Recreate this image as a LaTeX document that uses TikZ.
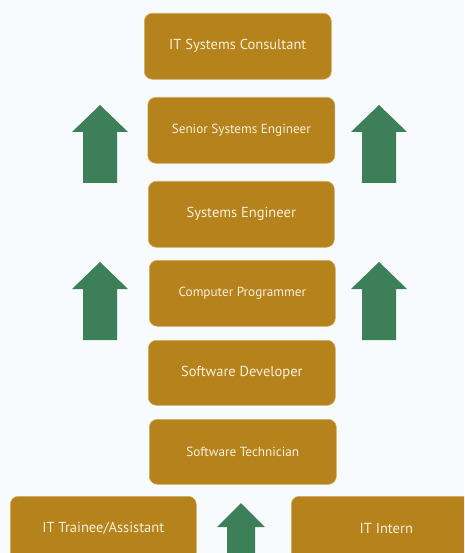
\documentclass[tikz,border=0pt]{standalone}
\usepackage{fontspec}
\setmainfont{PT Sans}
\definecolor{bg}{HTML}{F7FBFD}
\definecolor{boxc}{HTML}{B5821C}
\definecolor{boxedge}{HTML}{D2B06A}
\definecolor{arr}{HTML}{3D7F58}
\definecolor{txt}{HTML}{F8F0DA}
\tikzset{
  careerbox/.style={rectangle, rounded corners=8pt, fill=boxc, draw=boxedge, line width=0.6pt,
    text=txt, inner sep=0pt, anchor=north west},
  bigtxt/.style={font=\fontsize{14.5}{17}\selectfont},
  smalltxt/.style={font=\fontsize{13.2}{15}\selectfont},
  uparrow/.pic={
    \fill[arr] (0,0) -- (28,27) -- (17,27) -- (17,78) -- (-17,78) -- (-17,27) -- (-28,27) -- cycle;
  },
  smallarrow/.pic={
    \fill[arr] (0,0) -- (24,24) -- (14,24) -- (14,70) -- (-14,70) -- (-14,24) -- (-24,24) -- cycle;
  }
}
\begin{document}
\begin{tikzpicture}[x=1pt,y=-1pt]
\useasboundingbox (0,0) rectangle (464,553);
\clip (0,0) rectangle (464,553);
\fill[bg] (0,0) rectangle (464,553);

\node[careerbox, bigtxt, minimum width=187pt, minimum height=66pt] (consultant) at (144,13) {IT Systems Consultant};
\node[careerbox, smalltxt, minimum width=187pt, minimum height=66pt] (senior) at (147.5,97) {Senior Systems Engineer};
\node[careerbox, bigtxt, minimum width=186pt, minimum height=66pt] (syseng) at (148,181) {Systems Engineer};
\node[careerbox, smalltxt, minimum width=186pt, minimum height=66pt] (programmer) at (149,260) {Computer Programmer};
\node[careerbox, bigtxt, minimum width=187pt, minimum height=65pt] (developer) at (148,340) {Software Developer};
\node[careerbox, smalltxt, minimum width=187pt, minimum height=65pt] (technician) at (149,419) {Software Technician};
\node[careerbox, bigtxt, minimum width=186pt, minimum height=64pt] (trainee) at (10,496) {IT Trainee/Assistant};
\node[careerbox, bigtxt, minimum width=190pt, minimum height=64pt] (intern) at (291,496) {IT Intern};

\pic at (100,105) {uparrow};
\pic at (379,105) {uparrow};
\pic at (100,262) {uparrow};
\pic at (379,262) {uparrow};
\pic at (241,503) {smallarrow};
\end{tikzpicture}
\end{document}
